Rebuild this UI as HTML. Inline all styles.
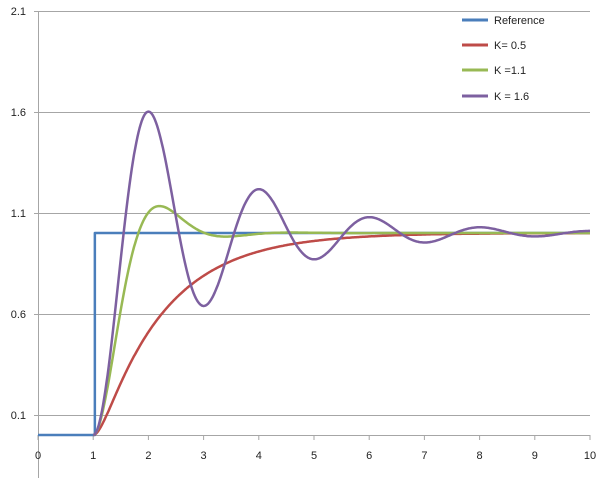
<!DOCTYPE html>
<html><head><style>
body{margin:0;background:#fff;}
svg text{font-family:"Liberation Sans",sans-serif;font-size:11px;fill:#222;}
</style></head><body>
<svg id="s" width="614" height="484" xmlns="http://www.w3.org/2000/svg">
<g stroke="#a6a6a6" stroke-width="1">
<line x1="34" y1="11.5" x2="590" y2="11.5"/>
<line x1="34" y1="112.5" x2="590" y2="112.5"/>
<line x1="34" y1="213.5" x2="590" y2="213.5"/>
<line x1="34" y1="314.5" x2="590" y2="314.5"/>
<line x1="34" y1="415.5" x2="590" y2="415.5"/>
<line x1="38.5" y1="11" x2="38.5" y2="478"/>
<line x1="38" y1="435.5" x2="590" y2="435.5"/>
</g>
<g id="ticks" stroke="#a6a6a6"></g>
<g text-anchor="end">
<text x="26" y="15">2.1</text><text x="26" y="116">1.6</text><text x="26" y="217">1.1</text><text x="26" y="318">0.6</text><text x="26" y="419">0.1</text>
</g>
<g id="xl" text-anchor="middle"></g>
<g id="curves" fill="none" stroke-width="2.5" stroke-linejoin="round"></g>
<g stroke-width="3">
<line x1="462" y1="20" x2="488" y2="20" stroke="#4a7ebb"/>
<line x1="462" y1="45" x2="488" y2="45" stroke="#be4b48"/>
<line x1="462" y1="70" x2="488" y2="70" stroke="#98b954"/>
<line x1="462" y1="96" x2="488" y2="96" stroke="#7d60a0"/>
</g>
<text x="494" y="24">Reference</text>
<text x="494" y="49">K= 0.5</text>
<text x="494" y="74">K =1.1</text>
<text x="494" y="100">K = 1.6</text>
</svg>
<script>
var X=t=>38+t*55.2, Y=v=>435-v*202;
var tk=document.getElementById('ticks'),xl=document.getElementById('xl'),ns='http://www.w3.org/2000/svg';
for(var i=0;i<=10;i++){var l=document.createElementNS(ns,'line');l.setAttribute('x1',X(i));l.setAttribute('x2',X(i));l.setAttribute('y1',435);l.setAttribute('y2',440);tk.appendChild(l);
var t=document.createElementNS(ns,'text');t.setAttribute('x',X(i));t.setAttribute('y',459);t.textContent=i;xl.appendChild(t);}
function so(z,wn){return function(t){if(t<=0)return 0;var wd=wn*Math.sqrt(1-z*z),ph=Math.acos(z);return 1-Math.exp(-z*wn*t)*Math.sin(wd*t+ph)/Math.sqrt(1-z*z);}}
function od(a,b){return function(t){if(t<=0)return 0;return 1-(b*Math.exp(-a*t)-a*Math.exp(-b*t))/(b-a);}}
var cv=document.getElementById('curves');
function add(f,c){var p=[];for(var t=1;t<=10.001;t+=0.02)p.push(X(t).toFixed(1)+','+Y(f(t-1)).toFixed(1));var e=document.createElementNS(ns,'polyline');e.setAttribute('points',p.join(' '));e.setAttribute('stroke',c);cv.appendChild(e);}
var ref=document.createElementNS(ns,'polyline');ref.setAttribute('points',X(0)+','+Y(0)+' '+X(1.03)+','+Y(0)+' '+X(1.03)+','+Y(1)+' '+X(10)+','+Y(1));ref.setAttribute('stroke','#4a7ebb');cv.appendChild(ref);
add(od(0.84,7),'#be4b48');
add(so(0.54,3.11),'#98b954');
add(so(0.16,3.18),'#7d60a0');
</script>
</body></html>
